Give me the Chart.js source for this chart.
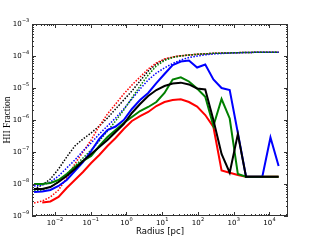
<!DOCTYPE html>
<html>
<head>
<meta charset="utf-8">
<script src="https://cdn.jsdelivr.net/npm/chart.js@4"></script>
<style>
  html, body { margin: 0; padding: 0; background: #fff; }
  canvas { display: block; }
</style>
</head>
<body>
<canvas id="hiiChart" width="320" height="240"></canvas>
<script>
// radial bins [pc]
const radius = [0.00263, 0.004446, 0.007516, 0.01271, 0.02148, 0.03631, 0.06138, 0.1038, 0.1754, 0.2965,
  0.5012, 0.8472, 1.432, 2.421, 4.093, 6.918, 11.69, 19.77, 33.42, 56.49,
  95.5, 161.4, 272.9, 461.3, 779.8, 1318, 2228, 3767, 6368, 10765, 18197]

// solid lines
const hiiBlack = [7.0e-9, 7.0e-9, 8.05e-9, 1.155e-8, 1.78e-8, 2.94e-8, 5.23e-8, 8.66e-8, 1.43e-7, 2.37e-7,
  4.22e-7, 7.5e-7, 1.66e-6, 3.16e-6, 5.62e-6, 8.66e-6, 1.155e-5, 1.38e-5, 1.47e-5, 1.29e-5,
  9.65e-6, 8.97e-6, 1.0e-6, 8.66e-8, 2.25e-8, 3.65e-7, 1.69e-8, 1.69e-8, 1.69e-8, 1.69e-8, 1.69e-8]
const hiiGreen = [1.0e-8, 1.0e-8, 1.075e-8, 1.33e-8, 2.05e-8, 3.4e-8, 5.23e-8, 7.5e-8, 1.54e-7, 2.94e-7,
  4.87e-7, 8.06e-7, 1.24e-6, 1.91e-6, 2.55e-6, 3.65e-6, 6.98e-6, 1.84e-5, 2.16e-5, 1.6e-5,
  9.65e-6, 5.35e-6, 6.49e-7, 4.53e-6, 1.115e-6, 2.05e-8, 1.69e-8, 1.69e-8, 1.69e-8, 1.69e-8, 1.69e-8]
const hiiBlue = [5.62e-9, 5.83e-9, 6.49e-9, 8.66e-9, 1.33e-8, 2.55e-8, 4.87e-8, 1.075e-7, 2.55e-7, 4.87e-7,
  6.26e-7, 1.0e-6, 2.21e-6, 4.22e-6, 6.98e-6, 1.43e-5, 2.74e-5, 5.23e-5, 6.73e-5, 7.23e-5,
  4.37e-5, 5.42e-5, 1.84e-5, 1.0e-5, 8.66e-6, 3.93e-7, 1.69e-8, 1.69e-8, 1.69e-8, 2.84e-7, 3.65e-8]
const hiiRed = [null, 2.64e-9, 2.84e-9, 3.93e-9, 7.5e-9, 1.33e-8, 2.37e-8, 4.53e-8, 8.06e-8, 1.54e-7,
  2.74e-7, 5.23e-7, 9.31e-7, 1.33e-6, 1.78e-6, 2.74e-6, 3.65e-6, 4.22e-6, 4.43e-6, 3.65e-6,
  2.64e-6, 1.43e-6, 6.04e-7, 2.64e-8, 2.25e-8, 1.91e-8, 1.69e-8, 1.69e-8, 1.69e-8, 1.69e-8, 1.69e-8]

// dotted lines
const hiiBlackDot = [7.0e-9, 9.3e-9, 1.43e-8, 2.94e-8, 7.0e-8, 1.54e-7, 2.55e-7, 3.93e-7, 6.49e-7, 1.155e-6,
  2.21e-6, 4.22e-6, 8.06e-6, 1.66e-5, 3.4e-5, 5.62e-5, 7.78e-5, 9.17e-5, 1.015e-4, 1.075e-4,
  1.13e-4, 1.17e-4, 1.21e-4, 1.23e-4, 1.25e-4, 1.27e-4, 1.29e-4, 1.30e-4, 1.31e-4, 1.32e-4, 1.32e-4]
const hiiRedDot = [2.55e-9, 2.94e-9, 3.93e-9, 6.49e-9, 1.54e-8, 4.22e-8, 1.0e-7, 2.37e-7, 6.49e-7, 1.54e-6,
  3.16e-6, 6.49e-6, 1.24e-5, 2.21e-5, 3.93e-5, 6.04e-5, 8.06e-5, 9.31e-5, 1.02e-4, 1.075e-4,
  1.13e-4, 1.17e-4, 1.21e-4, 1.23e-4, 1.25e-4, 1.27e-4, 1.29e-4, 1.30e-4, 1.31e-4, 1.31e-4, 1.32e-4]
const hiiGreenDot = [6.04e-9, 6.49e-9, 8.05e-9, 1.155e-8, 2.05e-8, 3.65e-8, 6.49e-8, 1.155e-7, 2.21e-7, 4.53e-7,
  9.31e-7, 2.05e-6, 4.87e-6, 1.155e-5, 2.55e-5, 4.87e-5, 7.23e-5, 8.97e-5, 1.0e-4, 1.075e-4,
  1.13e-4, 1.17e-4, 1.21e-4, 1.23e-4, 1.25e-4, 1.27e-4, 1.29e-4, 1.30e-4, 1.31e-4, 1.32e-4, 1.32e-4]
const hiiBlueDot = [8.66e-9, 9.3e-9, 1.155e-8, 1.78e-8, 3.16e-8, 5.62e-8, 1.075e-7, 1.91e-7, 3.65e-7, 6.49e-7,
  1.155e-6, 2.21e-6, 4.53e-6, 9.31e-6, 1.78e-5, 2.94e-5, 4.22e-5, 5.83e-5, 7.5e-5, 8.97e-5,
  1.0e-4, 1.09e-4, 1.155e-4, 1.2e-4, 1.23e-4, 1.26e-4, 1.28e-4, 1.30e-4, 1.31e-4, 1.32e-4, 1.32e-4]

const xRange = [0.0023, 33300]
const yRange = [1e-9, 1e-3]

const toPoints = vals => radius.map((r, i) => ({ x: r, y: vals[i] }))

const solid = (vals, color) => ({
  data: toPoints(vals), borderColor: color, borderWidth: 2, pointRadius: 0, fill: false
})
const dotted = (vals, color) => ({
  data: toPoints(vals), borderColor: color, borderWidth: 1.5, borderDash: [1.5, 1.5], pointRadius: 0, fill: false
})

const powLabel = (ctx, e, x, y, align) => {
  const base = '10'
  const sup = (e < 0 ? '\u2212' : '') + Math.abs(e)
  ctx.font = '7px "DejaVu Sans"'
  const w1 = ctx.measureText(base).width
  ctx.font = '5px "DejaVu Sans"'
  const w2 = ctx.measureText(sup).width
  const x0 = align === 'center' ? x - (w1 + w2) / 2 : x - w1 - w2
  ctx.textAlign = 'left'
  ctx.textBaseline = 'middle'
  ctx.font = '7px "DejaVu Sans"'
  ctx.fillText(base, x0, y)
  ctx.font = '5px "DejaVu Sans"'
  ctx.fillText(sup, x0 + w1 + 0.3, y - 3)
}

// matplotlib-like box with inward ticks on all sides
const axesFrame = {
  id: 'axesFrame',
  afterDatasetsDraw(chart) {
    const { ctx, chartArea: a, scales: { x, y } } = chart
    ctx.save()
    ctx.strokeStyle = '#333'
    ctx.lineWidth = 1
    ctx.strokeRect(a.left + 0.5, a.top + 0.5, a.right - a.left - 1, a.bottom - a.top - 1)
    ctx.beginPath()
    for (let e = Math.floor(Math.log10(x.min)); e <= Math.ceil(Math.log10(x.max)); e++) {
      for (let m = 1; m < 10; m++) {
        const v = m * Math.pow(10, e)
        if (v < x.min || v > x.max) continue
        const p = Math.round(x.getPixelForValue(v)) + 0.5
        const len = m === 1 ? 4 : 2
        ctx.moveTo(p, a.bottom); ctx.lineTo(p, a.bottom - len)
        ctx.moveTo(p, a.top); ctx.lineTo(p, a.top + len)
      }
    }
    for (let e = Math.floor(Math.log10(y.min)); e <= Math.ceil(Math.log10(y.max)); e++) {
      for (let m = 1; m < 10; m++) {
        const v = m * Math.pow(10, e)
        if (v < y.min * 0.999 || v > y.max * 1.001) continue
        const p = Math.round(y.getPixelForValue(v)) + 0.5
        const len = m === 1 ? 4 : 2
        ctx.moveTo(a.left, p); ctx.lineTo(a.left + len, p)
        ctx.moveTo(a.right, p); ctx.lineTo(a.right - len, p)
      }
    }
    ctx.stroke()

    ctx.fillStyle = '#000'
    for (let e = Math.ceil(Math.log10(x.min)); e <= Math.floor(Math.log10(x.max)); e++) {
      powLabel(ctx, e, x.getPixelForValue(Math.pow(10, e)), a.bottom + 7, 'center')
    }
    for (let e = Math.round(Math.log10(y.min)); e <= Math.round(Math.log10(y.max)); e++) {
      powLabel(ctx, e, a.left - 3, y.getPixelForValue(Math.pow(10, e)), 'right')
    }
    ctx.restore()
  }
}

new Chart(document.getElementById('hiiChart').getContext('2d'), {
  type: 'line',
  data: {
    datasets: [
      solid(hiiBlack, '#000000'),
      solid(hiiGreen, '#008000'),
      solid(hiiBlue, '#0000ff'),
      solid(hiiRed, '#ff0000'),
      dotted(hiiGreenDot, '#008000'),
      dotted(hiiBlueDot, '#0000ff'),
      dotted(hiiRedDot, '#ff0000'),
      dotted(hiiBlackDot, '#000000')
    ]
  },
  options: {
    responsive: false,
    animation: false,
    devicePixelRatio: 1,
    layout: { padding: { left: 0, top: 24, right: 32, bottom: 0 } },
    plugins: { legend: { display: false }, tooltip: { enabled: false } },
    elements: { line: { tension: 0 } },
    scales: {
      x: {
        type: 'logarithmic',
        min: xRange[0],
        max: xRange[1],
        grid: { display: false },
        border: { display: false },
        ticks: { display: false },
        title: {
          display: true,
          text: 'Radius [pc]',
          color: '#000',
          font: { family: '"DejaVu Sans"', size: 8.5 },
          padding: { top: 0, bottom: 3 }
        },
        afterFit: scale => { scale.height = 24 }
      },
      y: {
        type: 'logarithmic',
        min: yRange[0],
        max: yRange[1],
        grid: { display: false },
        border: { display: false },
        ticks: { display: false },
        title: {
          display: true,
          text: 'HII Fraction',
          color: '#000',
          font: { family: '"Liberation Serif"', size: 9.5 },
          padding: { top: 2, bottom: 0 }
        },
        afterFit: scale => { scale.width = 32 }
      }
    }
  },
  plugins: [axesFrame]
})
</script>
</body>
</html>
